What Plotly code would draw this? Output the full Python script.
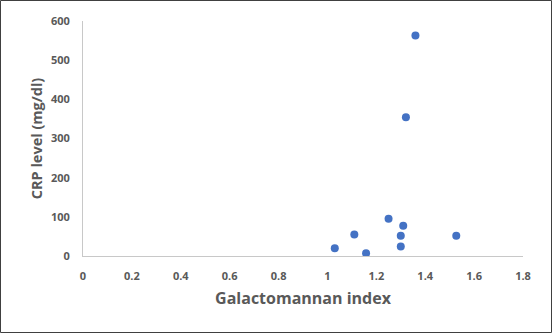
import plotly.graph_objects as go

# Galactomannan index vs CRP level
gm_index = [1.03, 1.11, 1.158, 1.25, 1.30, 1.30, 1.31, 1.321, 1.36, 1.527]
crp_level = [20, 55, 7, 95, 24, 52, 77, 354, 563, 52]

x_ticks = [0, 0.2, 0.4, 0.6, 0.8, 1, 1.2, 1.4, 1.6, 1.8]
x_tick_labels = ["0", "0.2", "0.4", "0.6", "0.8", "1", "1.2", "1.4", "1.6", "1.8"]
y_ticks = [0, 100, 200, 300, 400, 500, 600]

W, H = 552, 333
ML, MR, MT, MB = 83, 29, 21, 77
pw, ph = W - ML - MR, H - MT - MB

fig = go.Figure(
    go.Scatter(
        x=gm_index, y=crp_level, mode="markers",
        marker=dict(size=8, color="#4472C4"),
        showlegend=False,
    )
)

font_family = "'Open Sans', Lato, sans-serif"
tick_font = dict(size=11, family=font_family, weight="bold", color="#595959")
fig.update_layout(
    width=W, height=H,
    margin=dict(l=ML, r=MR, t=MT, b=MB),
    paper_bgcolor="white", plot_bgcolor="white",
    font=dict(family=font_family, color="#595959"),
    xaxis=dict(
        range=[0, 1.8], tickvals=x_ticks, ticktext=x_tick_labels,
        showgrid=False, zeroline=False, showline=True, linecolor="#c8c8c8", linewidth=1,
        ticks="", tickfont=tick_font, ticklabelstandoff=10,
        title=dict(text="<b>Galactomannan index</b>", font=dict(size=16, color="#595959"), standoff=10),
    ),
    yaxis=dict(
        range=[0, 600], tickvals=y_ticks,
        showgrid=False, zeroline=False, showline=True, linecolor="#c8c8c8", linewidth=1,
        ticks="", tickfont=tick_font, ticklabelstandoff=10,
        title=dict(text="<b>CRP level (mg/dl)</b>", font=dict(size=14.5, color="#595959"), standoff=4),
    ),
    shapes=[dict(
        type="rect", xref="paper", yref="paper",
        x0=-(ML - 0.5) / pw, x1=1 + (MR - 0.5) / pw,
        y0=-(MB - 0.5) / ph, y1=1 + (MT - 0.5) / ph,
        line=dict(color="#404040", width=1), layer="above",
    )],
)

fig.write_html("out.html")
